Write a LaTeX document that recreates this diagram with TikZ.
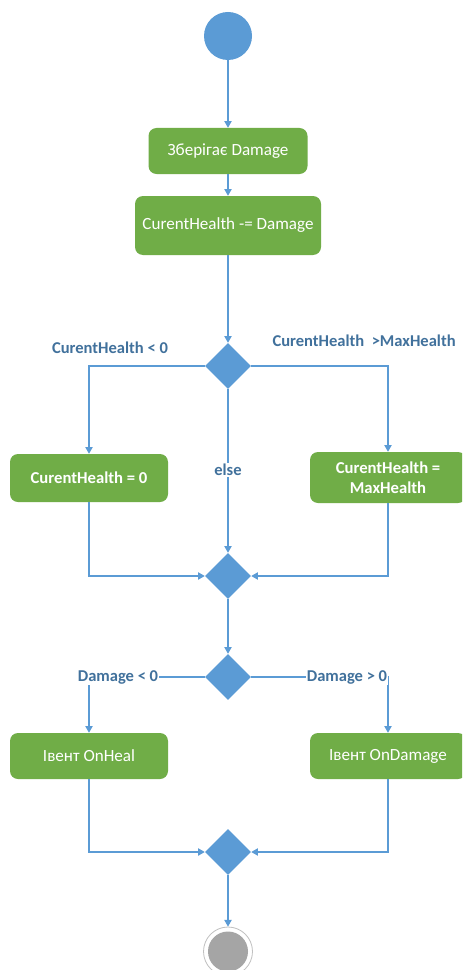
\documentclass[tikz,border=0pt]{standalone}
\usepackage{fontspec}
\setmainfont{Carlito}
\usetikzlibrary{shapes.geometric,arrows.meta}
\newcommand\pxu{0.75pt}
\definecolor{flowblue}{HTML}{5B9BD5}
\definecolor{actgreen}{HTML}{70AD47}
\definecolor{guardtext}{HTML}{41719C}
\definecolor{endgrey}{HTML}{A5A5A5}
\tikzset{
  action/.style={rectangle, rounded corners=8*\pxu, fill=actgreen, draw=none,
    text=white, font=\fontsize{12.8}{15}\selectfont, align=center, inner sep=0pt},
  boldaction/.style={action, font=\bfseries\fontsize{12.5}{15}\selectfont},
  decision/.style={diamond, fill=flowblue, draw=none, minimum width=46*\pxu,
    minimum height=46*\pxu, inner sep=0pt},
  guard/.style={text=guardtext, font=\bfseries\fontsize{12.4}{14}\selectfont, inner sep=1pt},
  flow/.style={draw=flowblue, line width=0.8pt},
  arr/.style={flow, -{Triangle[width=5.5pt,length=5pt]}},
}
\begin{document}
\begin{tikzpicture}[x=\pxu, y=-\pxu]
  \fill[white] (0,0) rectangle (462,970);
  \useasboundingbox (0,0) rectangle (462,970);
  \clip (0,0) rectangle (462,970);

  % initial node
  \node[circle, fill=flowblue, minimum size=48*\pxu, inner sep=0pt] (start) at (228,36) {};

  % damage bookkeeping
  \node[action, minimum width=159*\pxu, minimum height=46*\pxu] (save) at (228,151) {Зберігає Damage};
  \node[action, minimum width=186*\pxu, minimum height=59*\pxu] (sub) at (228,225.5) {CurentHealth -= Damage};

  % health clamping
  \node[decision] (d1) at (228,366) {};
  \node[boldaction, minimum width=158*\pxu, minimum height=48*\pxu] (zero) at (89,478) {CurentHealth = 0};
  \node[boldaction, minimum width=156*\pxu, minimum height=51*\pxu] (max) at (388,477.5) {CurentHealth =\\MaxHealth};
  \node[decision] (m1) at (228,576) {};

  % event dispatch
  \node[decision] (d2) at (228,677) {};
  \node[action, minimum width=158*\pxu, minimum height=46*\pxu] (heal) at (89,756) {Івент OnHeal};
  \node[action, minimum width=156*\pxu, minimum height=46*\pxu] (dmg) at (388,756) {Івент OnDamage};
  \node[decision] (m2) at (228,852) {};

  % final node
  \node[circle, draw=endgrey!70, line width=0.6pt, minimum size=49*\pxu, inner sep=0pt] (stop) at (228,951.5) {};
  \fill[endgrey] (stop.center) circle (20*\pxu);

  % connectors
  \draw[arr] (start) -- (save);
  \draw[arr] (save) -- (sub);
  \draw[arr] (sub) -- (d1);
  \draw[arr] (d1.west) -| (zero.north);
  \draw[arr] (d1.east) -| (max.north);
  \draw[arr] (d1.south) -- (m1.north);
  \draw[arr] (zero.south) |- (m1.west);
  \draw[arr] (max.south) |- (m1.east);
  \draw[arr] (m1) -- (d2);
  \draw[arr] (d2.west) -| (heal.north);
  \draw[arr] (d2.east) -| (dmg.north);
  \draw[arr] (heal.south) |- (m2.west);
  \draw[arr] (dmg.south) |- (m2.east);
  \draw[arr] (m2) -- (stop);

  % guards
  \node[guard] (g1) at (110,348) {CurentHealth < 0};
  \node[guard, anchor=west] (g2) at (271,341) {CurentHealth\ \ >MaxHealth};
  \node[guard, fill=white] (g3) at (228,470) {else};
  \node[guard, fill=white] (g4) at (118,677) {Damage < 0};
  \node[guard, fill=white] (g5) at (347,677) {Damage > 0};
\end{tikzpicture}
\end{document}
